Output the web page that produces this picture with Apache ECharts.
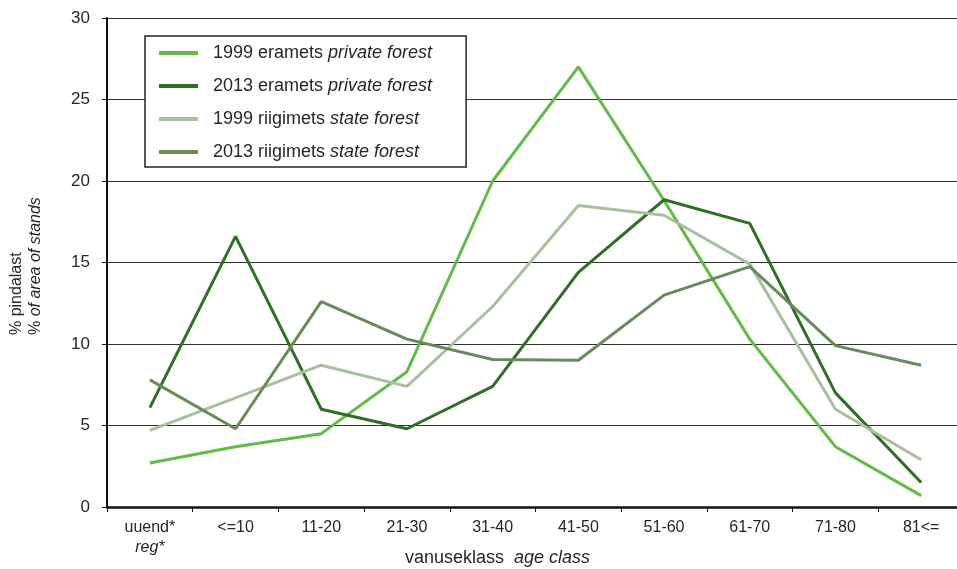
<!DOCTYPE html>
<html>
<head>
<meta charset="utf-8">
<title>Age class distribution</title>
<style>
  html, body { margin: 0; padding: 0; background: #fff; overflow: hidden; }
  #chart { width: 957px; height: 569px; }
</style>
</head>
<body>
<div id="chart"></div>
<script src="https://cdn.jsdelivr.net/npm/echarts@6/dist/echarts.min.js"></script>
<script>
var categories = ['uuend*', '<=10', '11-20', '21-30', '31-40', '41-50', '51-60', '61-70', '71-80', '81<='];
var yTicks = [0, 5, 10, 15, 20, 25, 30];

var private1999 = [2.7, 3.7, 4.5, 8.3, 20.0, 27.0, 18.8, 10.3, 3.7, 0.7];
var private2013 = [6.1, 16.6, 6.0, 4.8, 7.4, 14.4, 18.85, 17.4, 7.0, 1.5];
var state1999 = [4.7, 6.7, 8.7, 7.4, 12.3, 18.5, 17.9, 14.9, 6.0, 2.9];
var state2013 = [7.8, 4.8, 12.6, 10.3, 9.05, 9.0, 13.0, 14.75, 9.9, 8.7];

var seriesNames = ['1999 eramets', '2013 eramets', '1999 riigimets', '2013 riigimets'];
var seriesItalic = ['private forest', 'private forest', 'state forest', 'state forest'];
var seriesColors = ['#62bb46', '#2f6e25', '#a9bf9d', '#6a8a5c'];
var seriesData = [private1999, private2013, state1999, state2013];

var fontFamily = 'Liberation Sans, Arial, sans-serif';
var textColor = '#262626';

var series = [];
for (var i = 0; i < seriesData.length; i++) {
  series.push({
    name: seriesNames[i],
    type: 'line',
    data: seriesData[i],
    symbol: 'none',
    lineStyle: { color: seriesColors[i], width: 3 },
    itemStyle: { color: seriesColors[i] }
  });
}

var chart = echarts.init(document.getElementById('chart'));
chart.setOption({
  animation: false,
  grid: { left: 107, right: -7, top: 18, bottom: 62, containLabel: false, outerBoundsMode: 'none' },
  legend: {
    orient: 'vertical',
    left: 145,
    top: 36,
    padding: [8, 34, 6, 14],
    borderColor: '#222',
    borderWidth: 1.5,
    backgroundColor: '#fff',
    itemWidth: 39,
    itemHeight: 4,
    itemGap: 15,
    icon: 'rect',
    data: seriesNames,
    formatter: function (name) {
      var idx = seriesNames.indexOf(name);
      return name + ' {i|' + seriesItalic[idx] + '}';
    },
    textStyle: {
      fontFamily: fontFamily,
      fontSize: 18,
      color: textColor,
      padding: [0, 0, 0, 10],
      rich: {
        i: { fontStyle: 'italic', fontFamily: fontFamily, fontSize: 18, color: textColor }
      }
    }
  },
  graphic: [
    {
      type: 'text', x: 17, y: 335, rotation: Math.PI / 2,
      style: { text: '% pindalast', font: '16px ' + fontFamily, fill: textColor, align: 'left', verticalAlign: 'middle' }
    },
    {
      type: 'text', x: 36, y: 335, rotation: Math.PI / 2,
      style: {
        text: '% {i|of area of stands}', font: '16px ' + fontFamily, fill: textColor, align: 'left', verticalAlign: 'middle',
        rich: { i: { fontStyle: 'italic', fontFamily: fontFamily, fontSize: 16, fill: textColor } }
      }
    }
  ],
  xAxis: {
    type: 'category',
    data: categories,
    boundaryGap: true,
    name: 'vanuseklass  {i|age class}',
    nameLocation: 'middle',
    nameGap: 42,
    nameMoveOverlap: false,
    nameTextStyle: {
      fontFamily: fontFamily, fontSize: 18, color: textColor,
      padding: [0, 76, 0, 0],
      rich: { i: { fontStyle: 'italic', fontFamily: fontFamily, fontSize: 18, color: textColor } }
    },
    axisLine: { show: true, lineStyle: { color: '#111', width: 2.5 } },
    axisTick: { show: true, length: 5, lineStyle: { color: '#111' } },
    axisLabel: {
      margin: 11,
      fontFamily: fontFamily,
      fontSize: 16,
      color: textColor,
      lineHeight: 20,
      formatter: function (value) {
        if (value === 'uuend*') return 'uuend*\n{i|reg*}';
        return value;
      },
      rich: { i: { fontStyle: 'italic', fontFamily: fontFamily, fontSize: 16, color: textColor, lineHeight: 20 } }
    },
    splitLine: { show: false }
  },
  yAxis: {
    type: 'value',
    min: yTicks[0],
    max: yTicks[yTicks.length - 1],
    interval: 5,
    axisLine: { show: true, lineStyle: { color: '#111', width: 2 } },
    axisTick: { show: true, length: 5, lineStyle: { color: '#111' } },
    axisLabel: { margin: 17, fontFamily: fontFamily, fontSize: 17, color: textColor },
    splitLine: { show: true, lineStyle: { color: '#333', width: 1.2 } }
  },
  series: series
});
</script>
</body>
</html>
